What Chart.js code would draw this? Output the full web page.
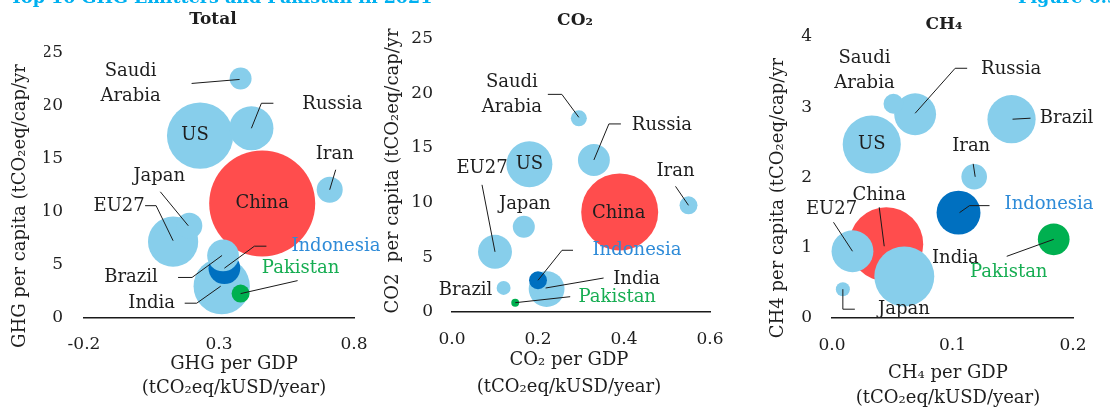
<!DOCTYPE html>
<html>
<head>
<meta charset="utf-8">
<script src="https://cdn.jsdelivr.net/npm/chart.js@4.4.1/dist/chart.umd.min.js"></script>
<style>
  html, body { margin: 0; padding: 0; background: #fff; }
  #wrap { position: relative; width: 1110px; height: 410px; overflow: hidden; font-family: 'DejaVu Serif', serif; }
  #wrap canvas { position: absolute; left: 0; top: 0; }
  .fig-head { position: absolute; top: -13px; color: #00b0f0; font-weight: bold; font-size: 17.5px; line-height: 20px; white-space: nowrap; }
</style>
</head>
<body>
<div id="wrap">
  <canvas id="chartTotal" width="1110" height="410"></canvas>
  <canvas id="chartCo2" width="1110" height="410"></canvas>
  <canvas id="chartCh4" width="1110" height="410"></canvas>
  <div class="fig-head" style="left:10px">Top 10 GHG Emitters and Pakistan in 2021</div>
  <div class="fig-head" style="left:1018px">Figure 6.5</div>
</div>
<script>
// ===== DATA =====
// drawing order matters: later bubbles sit on top of earlier ones
const countries = ['China', 'India', 'Indonesia', 'Brazil', 'US', 'EU27', 'Russia', 'Japan', 'Iran', 'Saudi Arabia', 'Pakistan'];

// Total GHG: intensity (tCO2eq/kUSD), per capita (tCO2eq/cap), emissions (GtCO2eq, bubble size)
const ghgPerGdp    = [0.46, 0.31, 0.32, 0.315, 0.23, 0.13, 0.42, 0.19, 0.71, 0.38, 0.38];
const ghgPerCapita = [10.8, 3.0, 4.7, 5.9, 17.2, 7.2, 17.9, 8.7, 12.1, 22.6, 2.3];
const ghgEmissions = [15.6, 4.4, 1.4, 1.4, 6.1, 3.5, 2.7, 0.94, 0.94, 0.67, 0.45];

// CO2
const co2PerGdp    = [0.39, 0.22, 0.20, 0.12, 0.18, 0.10, 0.33, 0.167, 0.55, 0.295, 0.147];
const co2PerCapita = [9.15, 2.1, 2.9, 2.2, 13.5, 5.5, 13.9, 7.8, 9.75, 17.7, 0.85];
const co2Emissions = [12.5, 2.7, 0.68, 0.41, 4.45, 2.43, 2.15, 1.02, 0.68, 0.54, 0.13];

// CH4
const ch4PerGdp    = [0.045, 0.060, 0.105, 0.149, 0.033, 0.017, 0.069, 0.009, 0.118, 0.051, 0.184];
const ch4PerCapita = [1.05, 0.59, 1.50, 2.83, 2.47, 0.95, 2.90, 0.41, 2.01, 3.05, 1.12];
const ch4Emissions = [1.25, 0.82, 0.44, 0.53, 0.77, 0.40, 0.40, 0.045, 0.15, 0.09, 0.23];

// tick labels
const totalXTicks = [-0.2, 0.3, 0.8];
const totalYTicks = [0, 5, 10, 15, 20, 25];
const co2XTicks = [0.0, 0.2, 0.4, 0.6];
const co2YTicks = [0, 5, 10, 15, 20, 25];
const ch4XTicks = [0.0, 0.1, 0.2];
const ch4YTicks = [0, 1, 2, 3, 4];

// ===== STYLE =====
const FONT = "'DejaVu Serif', serif";
const TEXT = '#1e1e1e';
const BUBBLE_COLORS = { China: '#ff4d4d', Indonesia: '#0070c0', Pakistan: '#00b050', other: '#87ceeb' };
const LABEL_COLORS = { Indonesia: '#2e8bd8', Pakistan: '#16ad52' };
const AXIS_W = 40;
const AXIS_H = 40;
const LINE_GAP = 25;

const panels = [
  {
    id: 'chartTotal', xs: ghgPerGdp, ys: ghgPerCapita, size: ghgEmissions,
    xTicks: totalXTicks, yTicks: totalYTicks,
    area: { left: 84, right: 354, top: 38, bottom: 318 }, maxR: 53, yPad: 21, xPad: 16,
    title: { text: 'Total', x: 213, y: 20 },
    xTitle: { lines: ['GHG per GDP', '(tCO₂eq/kUSD/year)'], x: 234, y: [364, 388] },
    yTitle: { text: 'GHG per capita (tCO₂eq/cap/yr', x: 20, y: 206 },
    labels: {
      'China': { text: ['China'], at: [0, 0] },
      'US': { text: ['US'], at: [-5, 0] },
      'India': { text: ['India'], at: [-70, 17], leader: [[-37, 17], [-25, 17], [-1, 0]] },
      'Indonesia': { text: ['Indonesia'], at: [67, -22], align: 'left', leader: [[0, 0], [30, -22], [42, -22]] },
      'Brazil': { text: ['Brazil'], at: [-92, 22], leader: [[-45, 22], [-31, 22], [-1, 0]] },
      'Pakistan': { text: ['Pakistan'], at: [60, -25], leader: [[57, -13], [0, 0]] },
      'Japan': { text: ['Japan'], at: [-30, -49], leader: [[-29, -34], [-1, 0]] },
      'EU27': { text: ['EU27'], at: [-54, -35], leader: [[-28, -36], [-17, -36], [0, -1]] },
      'Russia': { text: ['Russia'], at: [81, -24], leader: [[0, 0], [10, -25], [22, -25]] },
      'Iran': { text: ['Iran'], at: [5, -35], leader: [[6, -20], [0, 0]] },
      'Saudi Arabia': { text: ['Saudi', 'Arabia'], at: [-110, -7], leader: [[-49, 5], [-1, 1]] }
    }
  },
  {
    id: 'chartCo2', xs: co2PerGdp, ys: co2PerCapita, size: co2Emissions,
    xTicks: co2XTicks, yTicks: co2YTicks,
    area: { left: 452, right: 710, top: 17, bottom: 312 }, maxR: 38.5, yPad: 19, xPad: 17,
    title: { text: 'CO₂', x: 575, y: 21 },
    xTitle: { lines: ['CO₂ per GDP', '(tCO₂eq/kUSD/year)'], x: 569, y: [360, 387] },
    yTitle: { text: 'CO2  per capita (tCO₂eq/cap/yr', x: 393, y: 171 },
    labels: {
      'China': { text: ['China'], at: [-1, 1] },
      'US': { text: ['US'], at: [0, 0] },
      'Saudi Arabia': { text: ['Saudi', 'Arabia'], at: [-67, -36], leader: [[-31, -24], [-17, -24], [0, -1]] },
      'Russia': { text: ['Russia'], at: [68, -35], leader: [[0, 0], [15, -36], [27, -36]] },
      'Iran': { text: ['Iran'], at: [-13, -34], leader: [[-13, -19], [0, 0]] },
      'EU27': { text: ['EU27'], at: [-13, -84], leader: [[-13, -67], [0, 0]] },
      'Japan': { text: ['Japan'], at: [1, -22] },
      'Brazil': { text: ['Brazil'], at: [-38, 2] },
      'Indonesia': { text: ['Indonesia'], at: [99, -30], leader: [[0, 0], [24, -30], [35, -30]] },
      'India': { text: ['India'], at: [90, -10], leader: [[-1, -1], [57, -11]] },
      'Pakistan': { text: ['Pakistan'], at: [102, -5], leader: [[0, 0], [55, -6]] }
    }
  },
  {
    id: 'chartCh4', xs: ch4PerGdp, ys: ch4PerCapita, size: ch4Emissions,
    xTicks: ch4XTicks, yTicks: ch4YTicks,
    area: { left: 832, right: 1088, top: 28, bottom: 318 }, maxR: 37, yPad: 20, xPad: 17,
    title: { text: 'CH₄', x: 944, y: 25 },
    xTitle: { lines: ['CH₄ per GDP', '(tCO₂eq/kUSD/year)'], x: 948, y: [373, 398] },
    yTitle: { text: 'CH4 per capita (tCO₂eq/cap/yr', x: 778, y: 198 },
    labels: {
      'US': { text: ['US'], at: [0, 0] },
      'Saudi Arabia': { text: ['Saudi', 'Arabia'], at: [-29, -45] },
      'Russia': { text: ['Russia'], at: [96, -45], leader: [[0, -1], [40, -46], [52, -46]] },
      'Brazil': { text: ['Brazil'], at: [55, -1], leader: [[1, 0], [19, -1]] },
      'Iran': { text: ['Iran'], at: [-3, -30], leader: [[-1, -13], [1, 0]] },
      'Indonesia': { text: ['Indonesia'], at: [46, -8], align: 'left', leader: [[1, 0], [11, -7], [31, -7]] },
      'China': { text: ['China'], at: [-7, -49], leader: [[-7, -37], [-2, 2]] },
      'EU27': { text: ['EU27'], at: [-21, -42], leader: [[-19, -29], [0, 0]] },
      'India': { text: ['India'], at: [51, -18] },
      'Japan': { text: ['Japan'], at: [61, 20], leader: [[0, 0], [0, 20], [12, 20]] },
      'Pakistan': { text: ['Pakistan'], at: [-45, 33], leader: [[-47, 17], [0, 0]] }
    }
  }
];

document.addEventListener('DOMContentLoaded', () => {
  panels.forEach(makeChart);
});

/**
 * Draw titles, axis titles, bubble labels and leader lines on top of the chart.
 */
function annotationPlugin(p) {
  return {
    id: 'annotations_' + p.id,
    afterDraw(chart) {
      const ctx = chart.ctx;
      const meta = chart.getDatasetMeta(0);
      ctx.save();
      ctx.fillStyle = TEXT;
      ctx.textBaseline = 'middle';

      // panel title
      ctx.font = `bold 17px ${FONT}`;
      ctx.textAlign = 'center';
      ctx.fillText(p.title.text, p.title.x, p.title.y);

      // x axis title
      ctx.font = `18px ${FONT}`;
      p.xTitle.lines.forEach((line, i) => ctx.fillText(line, p.xTitle.x, p.xTitle.y[i]));

      // y axis title
      ctx.save();
      ctx.translate(p.yTitle.x, p.yTitle.y);
      ctx.rotate(-Math.PI / 2);
      ctx.fillText(p.yTitle.text, 0, 0);
      ctx.restore();

      // leader lines
      ctx.strokeStyle = '#1a1a1a';
      ctx.lineWidth = 1;
      countries.forEach((c, i) => {
        const lab = p.labels[c];
        if (!lab || !lab.leader) return;
        const el = meta.data[i];
        ctx.beginPath();
        lab.leader.forEach(([dx, dy], k) => {
          if (k === 0) ctx.moveTo(el.x + dx, el.y + dy);
          else ctx.lineTo(el.x + dx, el.y + dy);
        });
        ctx.stroke();
      });

      // bubble labels
      countries.forEach((c, i) => {
        const lab = p.labels[c];
        if (!lab) return;
        const el = meta.data[i];
        ctx.fillStyle = LABEL_COLORS[c] || TEXT;
        ctx.textAlign = lab.align || 'center';
        lab.text.forEach((t, k) => {
          ctx.fillText(t, el.x + lab.at[0], el.y + lab.at[1] + k * LINE_GAP);
        });
      });
      ctx.restore();
    }
  };
}

/**
 * Build one bubble panel.
 */
function makeChart(p) {
  const maxSize = Math.max(...p.size);
  const points = countries.map((c, i) => ({
    x: p.xs[i],
    y: p.ys[i],
    r: p.maxR * Math.sqrt(p.size[i] / maxSize)
  }));

  return new Chart(document.getElementById(p.id), {
    type: 'bubble',
    data: {
      datasets: [{
        data: points,
        backgroundColor: countries.map(c => BUBBLE_COLORS[c] || BUBBLE_COLORS.other),
        borderWidth: 0,
        clip: false
      }]
    },
    options: {
      responsive: false,
      animation: false,
      events: [],
      layout: {
        padding: {
          left: p.area.left - AXIS_W,
          right: 1110 - p.area.right,
          top: p.area.top,
          bottom: 410 - p.area.bottom - AXIS_H
        }
      },
      plugins: {
        legend: { display: false },
        tooltip: { enabled: false }
      },
      scales: {
        x: {
          type: 'linear',
          min: p.xTicks[0],
          max: p.xTicks[p.xTicks.length - 1],
          afterBuildTicks: s => { s.ticks = p.xTicks.map(v => ({ value: v })); },
          afterFit: s => { s.height = AXIS_H; },
          ticks: {
            callback: v => Number(v).toFixed(1),
            font: { family: FONT, size: 17 },
            color: TEXT,
            padding: p.xPad,
            maxRotation: 0,
            autoSkip: false
          },
          grid: { display: false, drawTicks: false },
          border: { display: true, color: '#1a1a1a', width: 1.5 }
        },
        y: {
          type: 'linear',
          min: p.yTicks[0],
          max: p.yTicks[p.yTicks.length - 1],
          afterBuildTicks: s => { s.ticks = p.yTicks.map(v => ({ value: v })); },
          afterFit: s => { s.width = AXIS_W; },
          ticks: {
            font: { family: FONT, size: 17 },
            color: TEXT,
            padding: p.yPad,
            autoSkip: false
          },
          grid: { display: false, drawTicks: false },
          border: { display: false }
        }
      }
    },
    plugins: [annotationPlugin(p)]
  });
}
</script>
</body>
</html>
